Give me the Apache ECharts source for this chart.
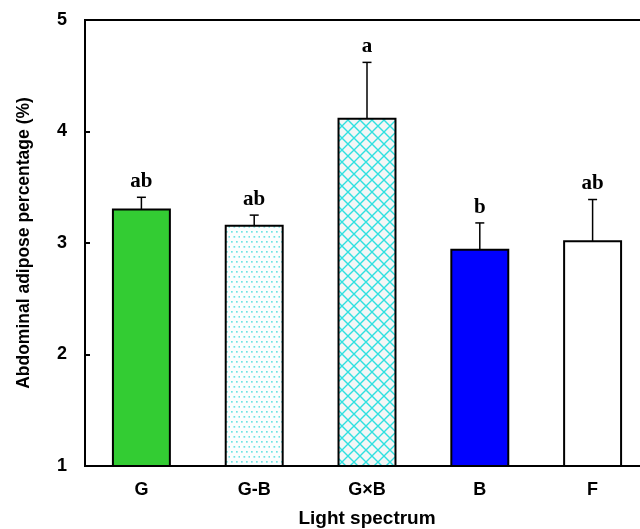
<!DOCTYPE html>
<html><head><meta charset="utf-8">
<script src="https://cdn.jsdelivr.net/npm/echarts@6/dist/echarts.min.js"></script>
<style>html,body{margin:0;padding:0;background:#fff}#c{width:640px;height:529px}</style>
</head><body><div id="c"></div>
<script>
const categories = ['G', 'G-B', 'G\u00d7B', 'B', 'F'];
const means = [3.30, 3.155, 4.115, 2.94, 3.015];
const errTops = [3.41, 3.25, 4.62, 3.18, 3.39];
const letters = ['ab', 'ab', 'a', 'b', 'ab'];
const yTicks = [1, 2, 3, 4, 5];

function dotPattern() {
  const c = document.createElement('canvas'); c.width = 10; c.height = 10;
  const g = c.getContext('2d');
  g.fillStyle = '#fbfefe'; g.fillRect(0, 0, 10, 10);
  g.fillStyle = '#70e4e4';
  [[1, 1], [6, 1], [3.5, 6], [8.5, 6]].forEach(p => g.fillRect(p[0], p[1], 1.7, 1.7));
  return c;
}
function hatchPattern() {
  const s = 12;
  const c = document.createElement('canvas'); c.width = s; c.height = s;
  const g = c.getContext('2d');
  g.fillStyle = '#f3f6f6'; g.fillRect(0, 0, s, s);
  g.strokeStyle = '#2fe0e0'; g.lineWidth = 1.4;
  g.beginPath();
  g.moveTo(-1, -1); g.lineTo(s + 1, s + 1);
  g.moveTo(s + 1, -1); g.lineTo(-1, s + 1);
  g.stroke();
  return c;
}
const fills = ['#33cc33', {image: dotPattern(), repeat: 'repeat'}, {image: hatchPattern(), repeat: 'repeat'}, '#0000ff', '#ffffff'];

const chart = echarts.init(document.getElementById('c'));
const font = 'Arial, "Liberation Sans", sans-serif';
chart.setOption({
  animation: false,
  backgroundColor: '#fff',
  grid: {left: 85, top: 20, width: 564, height: 446, outerBoundsMode: 'none', containLabel: false, show: true, borderColor: '#000', borderWidth: 2},
  xAxis: {
    type: 'category', data: categories,
    name: 'Light spectrum', nameLocation: 'middle', nameGap: 43,
    nameTextStyle: {fontFamily: font, fontWeight: 'bold', fontSize: 19, color: '#000'},
    axisLine: {lineStyle: {color: '#000', width: 2}},
    axisTick: {show: false},
    axisLabel: {fontFamily: font, fontWeight: 'bold', fontSize: 18, color: '#000', margin: 15}
  },
  yAxis: {
    type: 'value', min: yTicks[0], max: yTicks[yTicks.length - 1], interval: 1,
    name: 'Abdominal adipose percentage (%)', nameLocation: 'middle', nameGap: 52,
    nameTextStyle: {fontFamily: font, fontWeight: 'bold', fontSize: 17.5, color: '#000'},
    axisLine: {show: true, lineStyle: {color: '#000', width: 2}},
    axisTick: {show: true, inside: true, length: 5, lineStyle: {color: '#000', width: 2}},
    axisLabel: {fontFamily: font, fontWeight: 'bold', fontSize: 18, color: '#000', margin: 18},
    splitLine: {show: false}
  },
  series: [
    {
      type: 'custom',
      data: means.map((v, i) => [i, v]),
      renderItem: function (params, api) {
        const i = api.value(0);
        const top = api.coord([i, api.value(1)]);
        const base = api.coord([i, yTicks[0]]);
        const w = api.size([1, 0])[0] * 0.505;
        return {
          type: 'rect',
          shape: {x: top[0] - w / 2, y: top[1], width: w, height: base[1] - top[1]},
          style: {fill: fills[i], stroke: '#000', lineWidth: 2}
        };
      },
      z: 2
    },
    {
      type: 'custom',
      data: means.map((v, i) => [i, v, errTops[i]]),
      renderItem: function (params, api) {
        const i = api.value(0);
        const p0 = api.coord([i, api.value(1)]);
        const p1 = api.coord([i, api.value(2)]);
        return {
          type: 'group',
          children: [
            {type: 'line', shape: {x1: p0[0], y1: p0[1], x2: p1[0], y2: p1[1]}, style: {stroke: '#000', lineWidth: 1.5}},
            {type: 'line', shape: {x1: p1[0] - 4.5, y1: p1[1], x2: p1[0] + 4.5, y2: p1[1]}, style: {stroke: '#000', lineWidth: 1.5}},
            {type: 'text', x: p1[0], y: p1[1] - 5, style: {text: letters[i], fontFamily: '"Liberation Serif", "Times New Roman", serif', fontWeight: 'bold', fontSize: 21, fill: '#000', align: 'center', verticalAlign: 'bottom'}}
          ]
        };
      },
      z: 3
    }
  ]
});
</script></body></html>
